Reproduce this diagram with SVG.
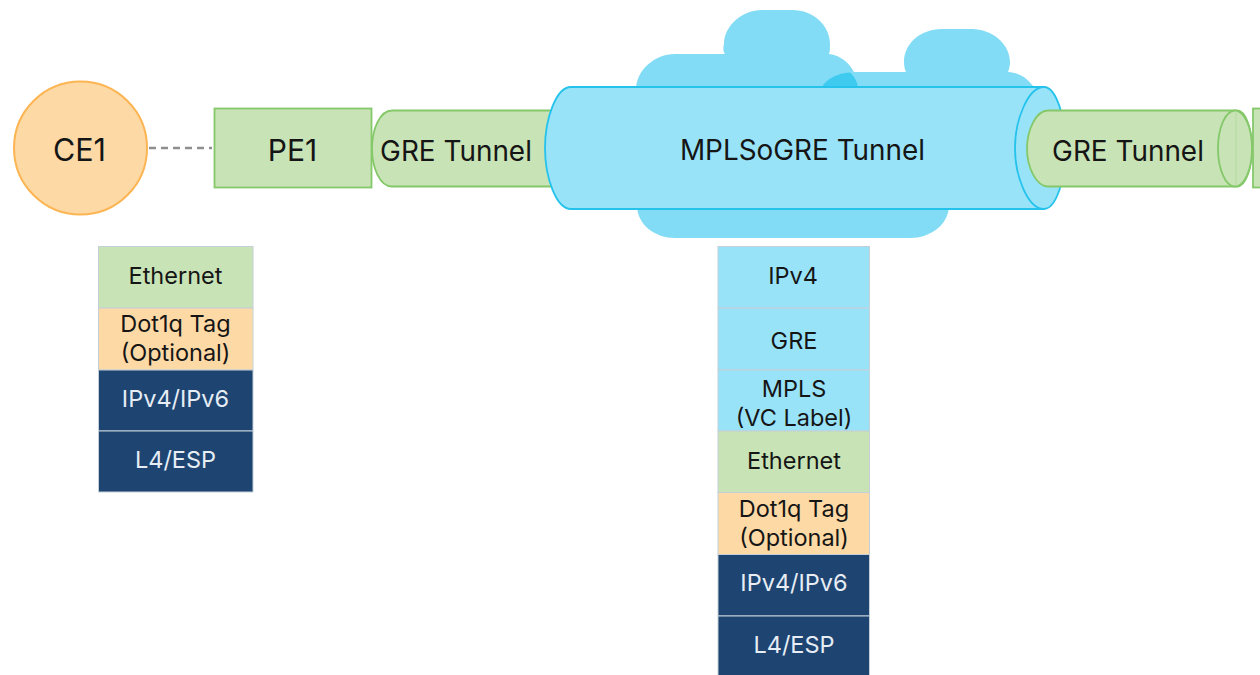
<svg xmlns="http://www.w3.org/2000/svg" width="1260" height="675" viewBox="0 0 1260 675">
<style>
text{font-family:"Inter","Liberation Sans",sans-serif;text-anchor:middle;fill:#151515}
.t{font-size:27.9px}
.s{font-size:23.5px}
.w{fill:#e6edf5}
.g{fill:#c8e3b5;stroke:#85c86a;stroke-width:1.800}
.c{fill:#82dcf6}
.b{fill:#99e3f9;stroke:#25c3ec;stroke-width:1.800}
.cell{stroke:#c3d0d8;stroke-width:1}
.lg{fill:#c8e3b5}.lo{fill:#fdd9a6}.ln{fill:#1e4471}.lb{fill:#99e3f9}
</style>
<g id="connectors"><line x1="149" y1="148" x2="212" y2="148" stroke="#8f8f8f" stroke-width="2.500" stroke-dasharray="7 5"/></g>
<g id="ce1"><circle cx="80.500" cy="148" r="66.500" fill="#fdd9a6" stroke="#fcb552" stroke-width="2"/><text class="t" x="79.500" y="160.500" style="font-size:30.500px">CE1</text></g>
<g id="gre-left"><path class="g" d="M392 110.500H560V186.500H392C380 186.500 372 168 372 148.500C372 129 380 110.500 392 110.500Z"/><text class="t" x="456" y="161">GRE Tunnel</text></g>
<g id="pe1"><rect class="g" x="214.500" y="108.500" width="157" height="79"/><text class="t" x="292.500" y="161" style="font-size:30px">PE1</text></g>
<g id="cloud">
<path class="c" d="M636 90C636 70 655 54 675 54H725C722 50 724 44 724 44C724 26 742 10 762 10H792C814 10 830 26 830 44C830 48 830 51 829 54C845 56 858 70 858 90V100H636Z"/>
<path class="c" d="M820 100C822 85 835 72 852 72H906C904 68 904 62 904 62C904 44 920 29 942 29H972C992 29 1010 44 1010 62C1010 66 1009 69 1008 72C1020 73 1028 78 1036 90V100Z"/>
<path d="M822 87C826 79 838 73 850 72.500C855 77 857 82 858 87Z" fill="#3fcbf0"/>
<path class="c" d="M637 205H949C949 225 930 238 910 238H675C655 238 637 225 637 205Z"/>
</g>
<g id="mplsogre">
<path class="b" d="M571 87H1044C1056 87 1066 118 1066 148C1066 178 1056 209 1044 209H571C556 209 545 177 545 148C545 119 556 87 571 87Z"/>
<path d="M1044 87C1028 87 1015 120 1015 148C1015 177 1028 209 1044 209" fill="none" stroke="#25c3ec" stroke-width="1.800"/>
<text class="t" x="802.500" y="160">MPLSoGRE Tunnel</text>
</g>
<g id="pe2"><rect class="g" x="1253" y="108.500" width="10" height="79"/></g>
<g id="gre-right">
<path class="g" d="M1048 110.500H1237C1246 110.500 1252 130 1252 148.500C1252 167 1246 186.500 1237 186.500H1048C1036 186.500 1027 167 1027 148.500C1027 130 1036 110.500 1048 110.500Z"/>
<ellipse cx="1235" cy="148.500" rx="17" ry="38" fill="#c8e3b5" stroke="#85c86a" stroke-width="1.800"/>
<line x1="1236" y1="111" x2="1236" y2="186" stroke="#b5d9a0" stroke-width="1"/>
<text class="t" x="1128" y="161">GRE Tunnel</text>
</g>
<g id="stack-left">
<rect class="cell lg" x="98.500" y="246.500" width="154.500" height="61.500"/>
<rect class="cell lo" x="98.500" y="308" width="154.500" height="62"/>
<rect class="cell ln" x="98.500" y="370" width="154.500" height="61"/>
<rect class="cell ln" x="98.500" y="431" width="154.500" height="61"/>
<text class="s" x="175.500" y="284">Ethernet</text>
<text class="s" x="175.500" y="332">Dot1q Tag</text>
<text class="s" x="175.500" y="361">(Optional)</text>
<text class="s w" x="175.500" y="407">IPv4/IPv6</text>
<text class="s w" x="175.500" y="468">L4/ESP</text>
</g>
<g id="stack-center">
<rect class="cell lb" x="718" y="246.500" width="151.500" height="61.500"/>
<rect class="cell lb" x="718" y="308" width="151.500" height="62"/>
<rect class="cell lb" x="718" y="370" width="151.500" height="61"/>
<rect class="cell lg" x="718" y="431" width="151.500" height="61.500"/>
<rect class="cell lo" x="718" y="492.500" width="151.500" height="62"/>
<rect class="cell ln" x="718" y="554.500" width="151.500" height="61.500"/>
<rect class="cell ln" x="718" y="616" width="151.500" height="62"/>
<text class="s" x="793" y="284">IPv4</text>
<text class="s" x="794" y="349">GRE</text>
<text class="s" x="794" y="397">MPLS</text>
<text class="s" x="794" y="426">(VC Label)</text>
<text class="s" x="794" y="469">Ethernet</text>
<text class="s" x="794" y="517">Dot1q Tag</text>
<text class="s" x="794" y="546">(Optional)</text>
<text class="s w" x="794" y="591">IPv4/IPv6</text>
<text class="s w" x="794" y="653">L4/ESP</text>
</g>
</svg>
